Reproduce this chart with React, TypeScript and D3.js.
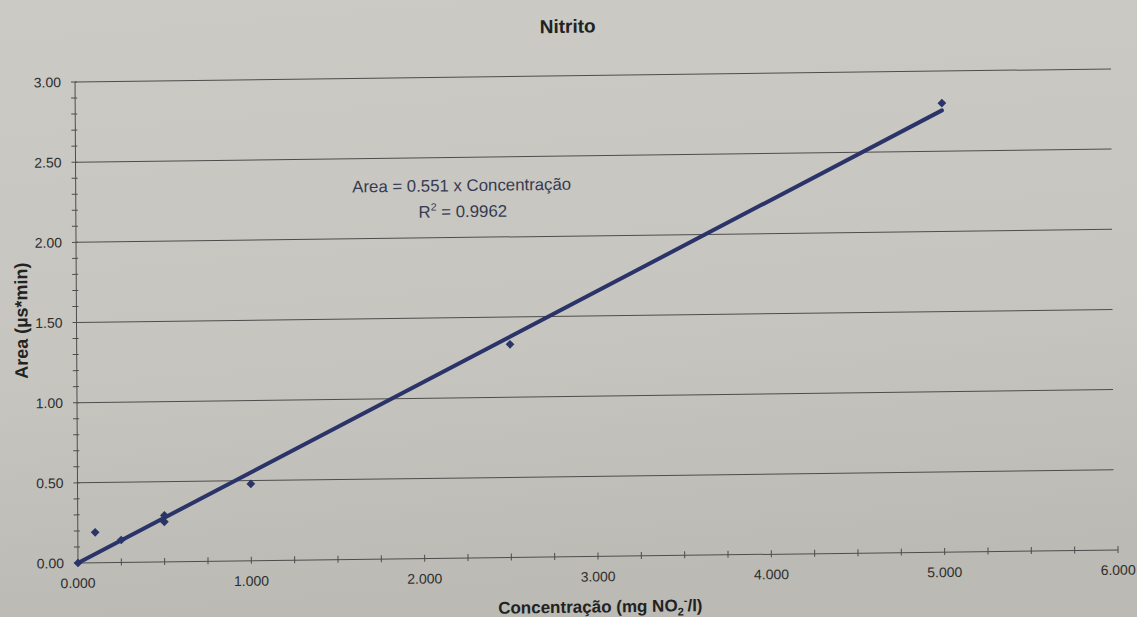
import React from "react";
import * as d3 from "d3";

const concentrations = [0, 0.1, 0.25, 0.5, 0.5, 1.0, 2.5, 5.0];
const areas = [0, 0.19, 0.14, 0.29, 0.25, 0.48, 1.33, 2.8];
const slope = 0.551;
const r2 = 0.9962;
const xTicks = [0, 1, 2, 3, 4, 5, 6];
const yTicks = [0, 0.5, 1, 1.5, 2, 2.5, 3];
const titleText = "Nitrito";

const W = 1137;
const H = 617;

export default function App() {
  const x = d3.scaleLinear().domain([0, 6]).range([78, 1118]);
  const y = d3.scaleLinear().domain([0, 3]).range([563, 82]);
  const xMinor = d3.range(0, 6.001, 0.25);
  const yMinor = d3.range(0, 3.001, 0.1);
  const pts = concentrations.map((c, i) => ({ c, a: areas[i] }));
  const xMax = d3.max(concentrations) as number;
  const line = d3
    .line<number>()
    .x((d) => x(d))
    .y((d) => y(slope * d));
  const square = d3.symbol().type(d3.symbolSquare).size(38)() as string;
  const font = "'Liberation Sans', Arial, sans-serif";
  const ink = "#2e2e2e";
  const navy = "#2b3468";
  const x0 = x(0);
  const y0 = y(0);
  const kx = 0.0062;
  const ky = -0.0126;
  const warp = `matrix(1 ${ky} ${kx} 1 ${-kx * y0} ${-ky * x0})`;

  return (
    <svg
      width={W}
      height={H}
      style={{ position: "absolute", left: 0, top: 0, display: "block" }}
      fontFamily={font}
    >
      <defs>
        <linearGradient id="bg" x1="0" y1="0" x2="0.15" y2="1">
          <stop offset="0" stopColor="#cbcac4" />
          <stop offset="0.6" stopColor="#c6c5bf" />
          <stop offset="1" stopColor="#bbbab4" />
        </linearGradient>
      </defs>
      <rect x={0} y={0} width={W} height={H} fill="url(#bg)" />
      <g transform={warp}>
        <text
          x={571}
          y={39}
          textAnchor="middle"
          fontSize={19}
          fontWeight="bold"
          fill="#222"
        >
          {titleText}
        </text>
        {yTicks
          .filter((t) => t > 0)
          .map((t) => (
            <line
              key={"g" + t}
              x1={x(0)}
              x2={x(6) - 4}
              y1={y(t)}
              y2={y(t)}
              stroke="#4d4d4d"
              strokeWidth={1}
            />
          ))}
        <line x1={x(0)} x2={x(0)} y1={y(0)} y2={y(3)} stroke="#4d4d4d" strokeWidth={1} />
        <line x1={x(0)} x2={x(6)} y1={y(0)} y2={y(0)} stroke="#4d4d4d" strokeWidth={1} />
        {yMinor.map((t, i) => (
          <line
            key={"ym" + i}
            x1={x(0) - 4}
            x2={x(0) + 2}
            y1={y(t)}
            y2={y(t)}
            stroke="#4d4d4d"
            strokeWidth={1}
          />
        ))}
        {xMinor.map((t, i) => (
          <line
            key={"xm" + i}
            x1={x(t)}
            x2={x(t)}
            y1={y(0) - 4}
            y2={y(0) + 3}
            stroke="#4d4d4d"
            strokeWidth={1}
          />
        ))}
        {yTicks.map((t) => (
          <text
            key={"yl" + t}
            x={x(0) - 14}
            y={y(t) + 5}
            textAnchor="end"
            fontSize={14}
            fill={ink}
          >
            {d3.format(".2f")(t)}
          </text>
        ))}
        {xTicks.map((t) => (
          <text
            key={"xl" + t}
            x={x(t)}
            y={y(0) + 25}
            textAnchor="middle"
            fontSize={14}
            fill={ink}
          >
            {d3.format(".3f")(t)}
          </text>
        ))}
        <path
          d={line([0, xMax]) as string}
          fill="none"
          stroke={navy}
          strokeWidth={4}
          strokeLinecap="round"
        />
        {pts.map((p, i) => (
          <path
            key={"p" + i}
            d={square}
            transform={`translate(${x(p.c)},${y(p.a)}) rotate(45)`}
            fill={navy}
          />
        ))}
        <text x={464} y={196} textAnchor="middle" fontSize={16.8} fill="#353a52">
          {`Area = ${slope} x Concentração`}
        </text>
        <text x={465} y={222} textAnchor="middle" fontSize={16.8} fill="#353a52">
          R<tspan dy={-7} fontSize={10.5}>2</tspan>
          <tspan dy={7}>{` = ${r2}`}</tspan>
        </text>
        <text
          x={600}
          y={619}
          textAnchor="middle"
          fontSize={17}
          fontWeight="bold"
          fill="#222"
        >
          Concentração (mg NO
          <tspan dy={4} fontSize={11}>2</tspan>
          <tspan dy={-11} fontSize={11}>-</tspan>
          <tspan dy={7}>/l)</tspan>
        </text>
        <text
          transform={`translate(29,320) rotate(-90)`}
          textAnchor="middle"
          fontSize={18}
          fontWeight="bold"
          fill="#222"
        >
          Area (µs*min)
        </text>
      </g>
    </svg>
  );
}
